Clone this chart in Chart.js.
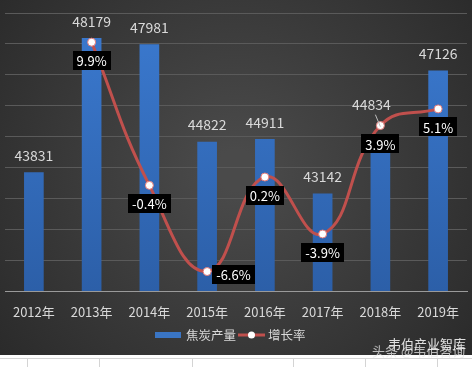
<!DOCTYPE html>
<html>
<head>
<meta charset="utf-8">
<script src="https://cdn.jsdelivr.net/npm/chart.js@4.4.1/dist/chart.umd.min.js"></script>
<style>
  html, body { margin: 0; padding: 0; background: #fff; }
  #wrap { width: 472px; height: 367px; }
</style>
</head>
<body>
<div id="wrap"><canvas id="chart" width="472" height="367"></canvas></div>
<script>
const years = ['2012年', '2013年', '2014年', '2015年', '2016年', '2017年', '2018年', '2019年'];
const output = [43831, 48179, 47981, 44822, 44911, 43142, 44834, 47126];
const growth = [null, 9.9, -0.4, -6.6, 0.2, -3.9, 3.9, 5.1];

const FONT = '"Noto Sans CJK SC", "Noto Sans", sans-serif';
const TEXT = '#d9d9d9';
const RED = '#c0504d';

// background: dark radial panel, then a strip of the spreadsheet below it
const backdrop = {
    id: 'backdrop',
    beforeDraw(chart) {
        const ctx = chart.ctx;
        ctx.save();
        const g = ctx.createRadialGradient(236, 170, 20, 236, 170, 330);
        g.addColorStop(0, '#4a4a4a');
        g.addColorStop(1, '#272727');
        ctx.fillStyle = g;
        ctx.fillRect(0, 0, 472, 355);
        ctx.fillStyle = '#ffffff';
        ctx.fillRect(0, 355, 472, 12);
        ctx.strokeStyle = '#d4d4d4';
        ctx.lineWidth = 1;
        ctx.beginPath();
        ctx.moveTo(0, 358.5); ctx.lineTo(472, 358.5);
        [27, 99, 192, 293, 365, 437].forEach(x => {
            ctx.moveTo(x + 0.5, 358); ctx.lineTo(x + 0.5, 367);
        });
        ctx.stroke();
        ctx.restore();
    }
};

// value labels for bars and growth boxes
const labels = {
    id: 'labels',
    afterDatasetsDraw(chart) {
        const ctx = chart.ctx;
        ctx.save();
        ctx.textAlign = 'center';
        ctx.textBaseline = 'middle';

        const bars = chart.getDatasetMeta(0).data;
        ctx.font = '14px ' + FONT;
        ctx.fillStyle = TEXT;
        bars.forEach((bar, i) => {
            let x = bar.x, y = bar.y - 17;
            if (i === 6) {
                x -= 9; y -= 20;
                ctx.strokeStyle = '#bfbfbf';
                ctx.lineWidth = 1;
                ctx.beginPath();
                ctx.moveTo(x + 4, y + 10);
                ctx.lineTo(bar.x, bar.y - 15);
                ctx.stroke();
            }
            ctx.fillText(String(output[i]), x, y);
        });

        const pts = chart.getDatasetMeta(1).data;
        ctx.font = '13px ' + FONT;
        pts.forEach((p, i) => {
            if (growth[i] === null) return;
            const txt = growth[i].toFixed(1) + '%';
            const w = ctx.measureText(txt).width + 8;
            const h = 19;
            let cx = p.x, cy = p.y + 18;
            if (i === 3) { cx = p.x + 5 + w / 2; cy = p.y + 3; }
            ctx.fillStyle = '#000';
            ctx.fillRect(Math.round(cx - w / 2), Math.round(cy - h / 2), Math.round(w), h);
            ctx.fillStyle = '#fff';
            ctx.fillText(txt, cx, cy + 1);
        });
        ctx.restore();
    },
    afterDraw(chart) {
        const ctx = chart.ctx;
        ctx.save();
        // legend
        ctx.textBaseline = 'middle';
        ctx.textAlign = 'left';
        ctx.font = '12.5px ' + FONT;
        ctx.fillStyle = '#3a75c4';
        ctx.fillRect(155, 332, 26, 6);
        ctx.fillStyle = TEXT;
        ctx.fillText('焦炭产量', 186, 335);
        ctx.strokeStyle = RED;
        ctx.lineWidth = 3;
        ctx.beginPath();
        ctx.moveTo(238, 335); ctx.lineTo(265, 335);
        ctx.stroke();
        ctx.fillStyle = '#fff';
        ctx.beginPath();
        ctx.arc(251.5, 335, 3.5, 0, Math.PI * 2);
        ctx.fill();
        ctx.fillStyle = TEXT;
        ctx.fillText('增长率', 268, 335);

        // watermark
        ctx.font = '13px ' + FONT;
        ctx.fillStyle = 'rgba(255,255,255,0.85)';
        ctx.fillText('韦伯产业智库', 388, 344);
        ctx.fillStyle = 'rgba(235,235,235,0.75)';
        ctx.fillText('头条 @韦伯咨询', 372, 351);
        ctx.restore();
    }
};

const ctx = document.getElementById('chart').getContext('2d');

new Chart(ctx, {
    data: {
        labels: years,
        datasets: [{
            type: 'bar',
            label: '焦炭产量',
            data: output,
            yAxisID: 'y',
            order: 2,
            barThickness: 19,
            backgroundColor(c) {
                const area = c.chart.chartArea;
                if (!area) return '#3570c0';
                const g = c.chart.ctx.createLinearGradient(0, area.top, 0, area.bottom);
                g.addColorStop(0, '#3b7ad0');
                g.addColorStop(1, '#2c5fa8');
                return g;
            }
        }, {
            type: 'line',
            label: '增长率',
            data: growth,
            yAxisID: 'y1',
            order: 1,
            borderColor: RED,
            borderWidth: 3,
            tension: 0.45,
            pointRadius: 4,
            pointBackgroundColor: '#fff',
            pointBorderColor: '#e07a78',
            pointBorderWidth: 1
        }]
    },
    options: {
        responsive: false,
        animation: false,
        layout: { padding: { top: 13, left: 0, right: 5, bottom: 0 } },
        plugins: {
            legend: { display: false },
            tooltip: { enabled: false }
        },
        scales: {
            x: {
                grid: { display: false },
                border: { color: '#9a9a9a', width: 1 },
                ticks: { color: TEXT, font: { size: 13, family: FONT }, padding: 5 },
                afterFit(scale) { scale.height = 76; }
            },
            y: {
                min: 40000,
                max: 49000,
                ticks: { stepSize: 1000, display: false },
                grid: { color: '#5a5a5a', drawTicks: false },
                border: { display: false },
                afterFit(scale) { scale.width = 0; }
            },
            y1: {
                min: -8,
                max: 12,
                display: false
            }
        }
    },
    plugins: [backdrop, labels]
});
</script>
</body>
</html>
